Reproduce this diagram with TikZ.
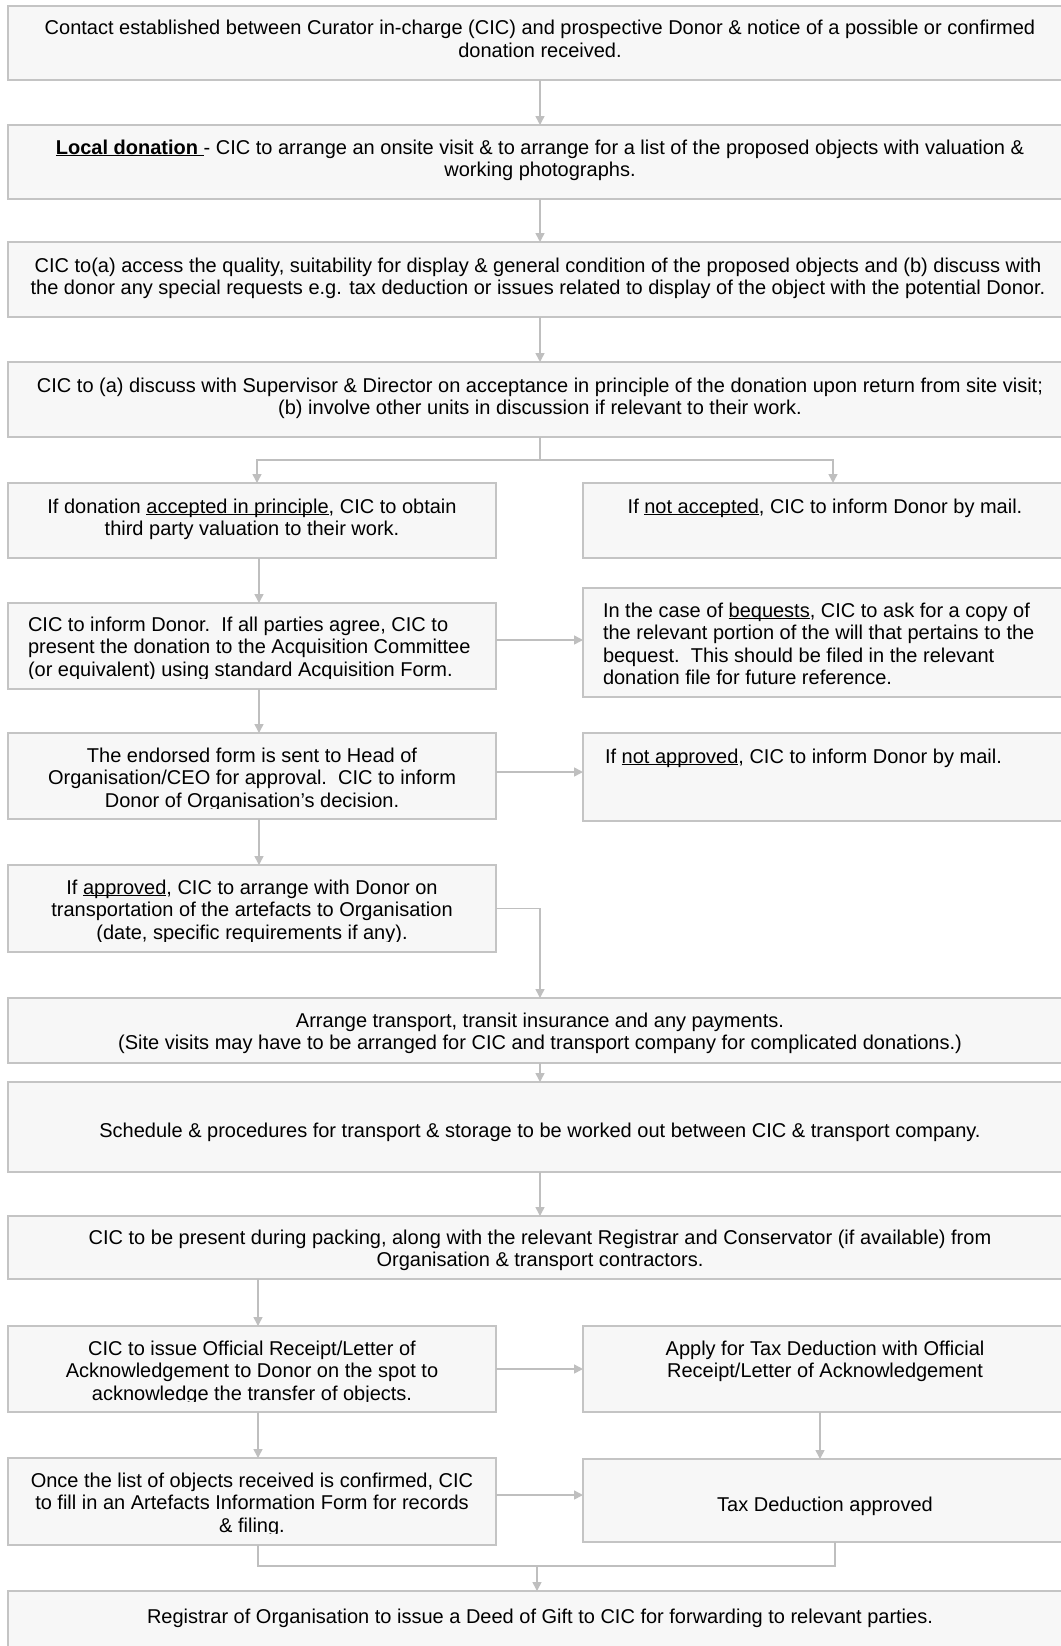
\documentclass[tikz,border=0pt]{standalone}
\usepackage{fontspec}
\setmainfont{Liberation Sans}
\usetikzlibrary{arrows.meta}
\definecolor{boxfill}{HTML}{F7F7F7}
\definecolor{boxline}{HTML}{C4C4C4}
\definecolor{arrcol}{HTML}{BFBFBF}
\newsavebox\ulbox
\newcommand\myul[1]{\sbox\ulbox{#1}\rlap{\rule[-2.4pt]{\wd\ulbox}{1.2pt}}\usebox\ulbox}
\begin{document}
\begin{tikzpicture}[x=1pt,y=-1pt,
  box/.style={draw=boxline, fill=boxfill, line width=1.8pt, inner sep=0pt, outer sep=0pt},
  txt/.style={inner sep=0pt, outer sep=0pt, anchor=base, font=\fontsize{20}{22.5}\selectfont},
  ctxt/.style={txt, align=center},
  ltxt/.style={txt, align=left, anchor=base west},
  conn/.style={draw=arrcol, line width=1.5pt},
  arr/.style={conn, -{Triangle[length=9pt,width=9pt]}},
  fullw/.style={box, minimum width=1064pt},
  halfw/.style={box, minimum width=488pt},
]
\useasboundingbox (0,0) rectangle (1060,1646);
\fill[white] (0,0) rectangle (1060,1646);

% boxes
\node[fullw, minimum height=74pt] (b1) at (540,43) {};
\node[fullw, minimum height=74pt] (b2) at (540,162) {};
\node[fullw, minimum height=75pt] (b3) at (540,279.5) {};
\node[fullw, minimum height=75pt] (b4) at (540,399.5) {};
\node[halfw, minimum height=75pt] (la) at (252,520.5) {};
\node[halfw, minimum height=75pt] (ra) at (827,520.5) {};
\node[halfw, minimum height=86pt] (lb) at (252,646) {};
\node[halfw, minimum height=109pt] (beq) at (827,642.5) {};
\node[halfw, minimum height=86pt] (endo) at (252,776) {};
\node[halfw, minimum height=88pt] (notap) at (827,777) {};
\node[halfw, minimum height=87pt] (appr) at (252,908.5) {};
\node[fullw, minimum height=65pt] (arrg) at (540,1030.5) {};
\node[fullw, minimum height=90pt] (sch) at (540,1127) {};
\node[fullw, minimum height=63pt] (pack) at (540,1247.5) {};
\node[halfw, minimum height=86pt] (rec) at (252,1369) {};
\node[halfw, minimum height=86pt] (apply) at (827,1369) {};
\node[halfw, minimum height=87pt] (once) at (252,1501.5) {};
\node[halfw, minimum height=83pt] (tax) at (827,1500.5) {};
\node[fullw, minimum height=89pt] (final) at (540,1635.5) {};

% texts (anchor = baseline of the last line)
\node[ctxt] (t1) at (540,57.5) {Contact established between Curator in-charge (CIC) and prospective Donor \& notice of a possible or confirmed\\donation received.};
\node[ctxt] (t2) at (540,176.5) {\textbf{\myul{Local donation\ }}- CIC to arrange an onsite visit \& to arrange for a list of the proposed objects with valuation \&\\working photographs.};
\node[ctxt] (t3) at (538,294.5) {CIC to(a) access the quality, suitability for display \& general condition of the proposed objects and (b) discuss with\\the donor any special requests e.g. tax deduction or issues related to display of the object with the potential Donor.};
\node[ctxt] (t4) at (540,414.5) {CIC to (a) discuss with Supervisor \& Director on acceptance in principle of the donation upon return from site visit;\\(b) involve other units in discussion if relevant to their work.};
\node[ctxt] (t5) at (252,535.5) {If donation \myul{accepted in principle}, CIC to obtain\\third party valuation to their work.};
\node[ctxt] (t6) at (825,513) {If \myul{not accepted}, CIC to inform Donor by mail.};
\begin{scope}
\clip (lb.north west) rectangle ([yshift=11pt]lb.south east);
\node[ltxt] (t7) at (28,676) {CIC to inform Donor.\ \ If all parties agree, CIC to\\present the donation to the Acquisition Committee\\(or equivalent) using standard Acquisition Form.};
\end{scope}
\node[ltxt] (t8) at (603,684.5) {In the case of \myul{bequests}, CIC to ask for a copy of\\the relevant portion of the will that pertains to the\\bequest.\ \ This should be filed in the relevant\\donation file for future reference.};
\begin{scope}
\clip (endo.north west) rectangle ([yshift=11pt]endo.south east);
\node[ctxt] (t9) at (252,807) {The endorsed form is sent to Head of\\Organisation/CEO for approval.\ \ CIC to inform\\Donor of Organisation’s decision.};
\end{scope}
\node[ltxt] (t10) at (605,763) {If \myul{not approved}, CIC to inform Donor by mail.};
\begin{scope}
\clip (appr.north west) rectangle ([yshift=11pt]appr.south east);
\node[ctxt] (t11) at (252,939) {If \myul{approved}, CIC to arrange with Donor on\\transportation of the artefacts to Organisation\\(date, specific requirements if any).};
\end{scope}
\node[ctxt] (t12) at (540,1049.5) {Arrange transport, transit insurance and any payments.\\(Site visits may have to be arranged for CIC and transport company for complicated donations.)};
\node[ctxt] (t13) at (540,1137) {Schedule \& procedures for transport \& storage to be worked out between CIC \& transport company.};
\node[ctxt] (t14) at (540,1266.5) {CIC to be present during packing, along with the relevant Registrar and Conservator (if available) from\\Organisation \& transport contractors.};
\begin{scope}
\clip (rec.north west) rectangle ([yshift=11pt]rec.south east);
\node[ctxt] (t15) at (252,1400) {CIC to issue Official Receipt/Letter of\\Acknowledgement to Donor on the spot to\\acknowledge the transfer of objects.};
\end{scope}
\node[ctxt] (t16) at (825,1377.5) {Apply for Tax Deduction with Official\\Receipt/Letter of Acknowledgement};
\begin{scope}
\clip (once.north west) rectangle ([yshift=12pt]once.south east);
\node[ctxt] (t17) at (252,1532) {Once the list of objects received is confirmed, CIC\\to fill in an Artefacts Information Form for records\\\& filing.};
\end{scope}
\node[ctxt] (t18) at (825,1511) {Tax Deduction approved};
\node[ctxt] (t19) at (540,1623) {Registrar of Organisation to issue a Deed of Gift to CIC for forwarding to relevant parties.};

% connectors
\draw[arr] (b1.south) -- (b2.north);
\draw[arr] (b2.south) -- (b3.north);
\draw[arr] (b3.south) -- (b4.north);
\coordinate (split) at ([yshift=-23pt]b4.south);
\draw[conn] (b4.south) -- (split);
\draw[arr] (split) -| ([xshift=5pt]la.north);
\draw[arr] (split) -| ([xshift=6pt]ra.north);
\draw[arr] ([xshift=7pt]la.south) -- ([xshift=7pt]lb.north);
\draw[arr] ([yshift=6pt]lb.east) -- ([yshift=6pt]lb.east -| beq.west);
\draw[arr] ([xshift=7pt]lb.south) -- ([xshift=7pt]endo.north);
\draw[arr] ([yshift=4pt]endo.east) -- ([yshift=4pt]endo.east -| notap.west);
\draw[arr] ([xshift=7pt]endo.south) -- ([xshift=7pt]appr.north);
\draw[arr] (appr.east) -| (arrg.north);
\draw[arr] (arrg.south) -- (sch.north);
\draw[arr] (sch.south) -- (pack.north);
\draw[arr] ([xshift=6pt]pack.south -| la.south) -- ([xshift=6pt]rec.north);
\draw[arr] (rec.east) -- (apply.west);
\draw[arr] ([xshift=6pt]rec.south) -- ([xshift=6pt]once.north);
\draw[arr] ([xshift=-7pt]apply.south) -- ([xshift=-7pt]tax.north);
\draw[arr] ([yshift=6.5pt]once.east) -- ([yshift=6.5pt]once.east -| tax.west);
\coordinate (merge) at ([yshift=25pt]final.north -| 537,0);
\draw[conn] ([xshift=6pt]once.south) |- (merge) -| ([xshift=8pt]tax.south);
\draw[arr] (merge) -- (merge |- final.north);
\end{tikzpicture}
\end{document}
